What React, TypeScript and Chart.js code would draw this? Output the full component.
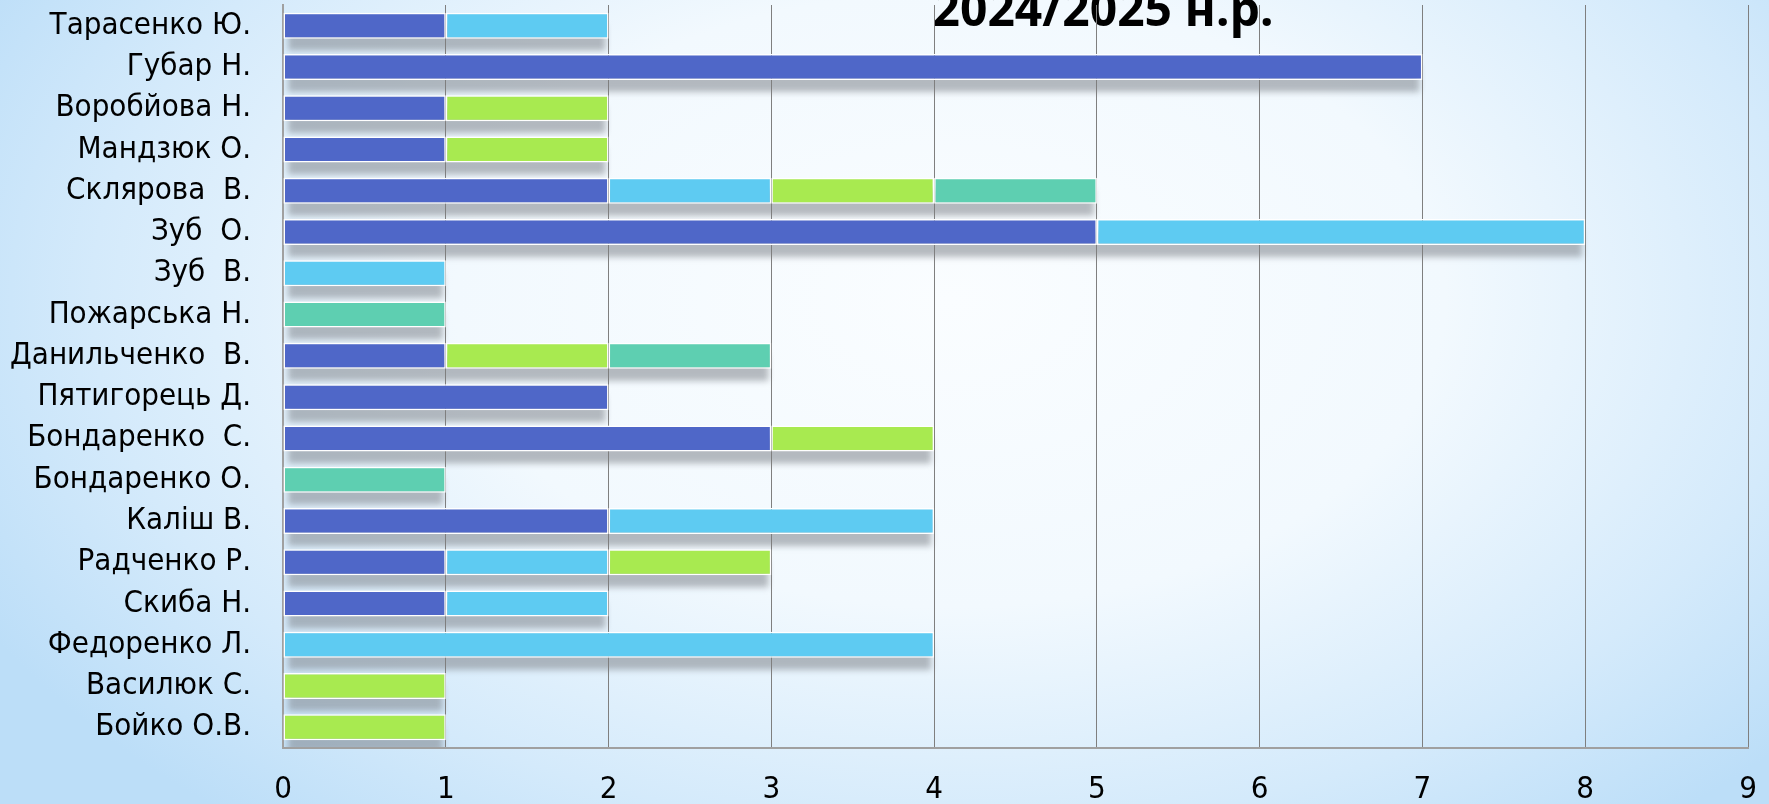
import React, { useEffect, useRef } from "react";
import { Chart, registerables } from "chart.js";

Chart.register(...registerables);

const teachers = [
  "Тарасенко Ю.",
  "Губар Н.",
  "Воробйова Н.",
  "Мандзюк О.",
  "Склярова  В.",
  "Зуб  О.",
  "Зуб  В.",
  "Пожарська Н.",
  "Данильченко  В.",
  "Пятигорець Д.",
  "Бондаренко  С.",
  "Бондаренко О.",
  "Каліш В.",
  "Радченко Р.",
  "Скиба Н.",
  "Федоренко Л.",
  "Василюк С.",
  "Бойко О.В.",
];

const seriesDarkBlue = [1, 7, 1, 1, 2, 5, null, null, 1, 2, 3, null, 2, 1, 1, null, null, null];
const seriesLightBlue = [1, null, null, null, 1, 3, 1, null, null, null, null, null, 2, 1, 1, 4, null, null];
const seriesGreen = [null, null, 1, 1, 1, null, null, null, 1, null, 1, null, null, 1, null, null, 1, 1];
const seriesTeal = [null, null, null, null, 1, null, null, 1, 1, null, null, 1, null, null, null, null, null, null];

const xTickMin = 0;
const xTickMax = 9;
const titleText = "2024/2025 н.р.";

const seriesColors = ["#4f67c8", "#5ecbf2", "#a8ea50", "#5ecfb1"];

const W = 1769;
const H = 804;

const backdropPlugin = {
  id: "backdrop",
  beforeDraw(chart: any) {
    const { ctx, chartArea, scales } = chart;
    ctx.save();
    ctx.fillStyle = "rgb(188,222,248)";
    ctx.fillRect(0, 0, W, H);
    ctx.save();
    ctx.translate(950, 300);
    ctx.scale(1, 0.62);
    const g = ctx.createRadialGradient(0, 0, 0, 0, 0, 1100);
    g.addColorStop(0, "rgb(250,253,255)");
    g.addColorStop(0.45, "rgb(242,249,254)");
    g.addColorStop(0.78, "rgb(212,234,251)");
    g.addColorStop(1, "rgb(188,222,248)");
    ctx.fillStyle = g;
    ctx.fillRect(-3000, -3000, 6000, 6000);
    ctx.restore();

    // title (behind grid)
    ctx.fillStyle = "#000";
    ctx.font = "bold 48px 'Noto Sans', 'Open Sans', sans-serif";
    ctx.textAlign = "center";
    ctx.textBaseline = "alphabetic";
    ctx.fillText(titleText, 1103, 26);

    // bar shadows
    const xs = scales.x;
    const base = xs.getPixelForValue(0);
    const metas = chart.getSortedVisibleDatasetMetas();
    const n = chart.data.labels.length;
    ctx.beginPath();
    ctx.rect(chartArea.left, chartArea.top, chartArea.right - chartArea.left, chartArea.bottom - chartArea.top);
    ctx.clip();
    ctx.filter = "blur(3px)";
    ctx.fillStyle = "rgba(125,131,138,0.55)";
    for (let j = 0; j < n; j++) {
      let end = base;
      let yc: number | null = null;
      let h = 0;
      metas.forEach((m: any) => {
        const v = chart.data.datasets[m.index].data[j];
        if (v == null) return;
        const el = m.data[j];
        end = Math.max(end, el.x);
        yc = el.y;
        h = el.height;
      });
      if (yc === null) continue;
      ctx.fillRect(base + 5, (yc as number) - h / 2 + 12, end - base - 8, h);
    }
    ctx.restore();
  },
};

export default function App() {
  const ref = useRef<HTMLCanvasElement | null>(null);
  useEffect(() => {
    if (!ref.current) return;
    const labelFont = { family: "'DejaVu Sans Condensed', 'DejaVu Sans', sans-serif", size: 31 };
    const chart = new Chart(ref.current, {
      type: "bar",
      data: {
        labels: teachers,
        datasets: [
          { label: "1", data: seriesDarkBlue, backgroundColor: seriesColors[0] },
          { label: "2", data: seriesLightBlue, backgroundColor: seriesColors[1] },
          { label: "3", data: seriesGreen, backgroundColor: seriesColors[2] },
          { label: "4", data: seriesTeal, backgroundColor: seriesColors[3] },
        ].map((d) => ({
          ...d,
          borderColor: "#ffffff",
          borderWidth: 1.5,
          borderSkipped: false,
          barPercentage: 0.63,
          categoryPercentage: 1,
        })),
      },
      options: {
        indexAxis: "y",
        responsive: false,
        animation: false,
        devicePixelRatio: 1,
        layout: { padding: { top: 5, right: 21, left: 0, bottom: 0 } },
        plugins: {
          legend: { display: false },
          tooltip: { enabled: false },
          title: { display: false },
        },
        scales: {
          x: {
            type: "linear",
            stacked: true,
            min: xTickMin,
            max: xTickMax,
            ticks: { stepSize: 1, color: "#000", font: labelFont, padding: 23 },
            grid: { color: "#7f7f7f", lineWidth: 1, drawTicks: false },
            border: { display: true, color: "#a0a0a0", width: 2 },
            afterFit(scale: any) {
              scale.height = H - 748;
              scale.paddingLeft = 0;
              scale.paddingRight = 0;
            },
          },
          y: {
            stacked: true,
            ticks: { color: "#000", font: labelFont, padding: 32, autoSkip: false },
            grid: { display: false, drawTicks: false },
            border: { display: true, color: "#a0a0a0", width: 2 },
            afterFit(scale: any) {
              scale.width = 283;
              scale.paddingTop = 0;
              scale.paddingBottom = 0;
            },
          },
        },
      } as any,
      plugins: [backdropPlugin],
    });
    return () => chart.destroy();
  }, []);
  return (
    <div style={{ position: "absolute", left: 0, top: 0, width: W, height: H }}>
      <canvas ref={ref} width={W} height={H} style={{ display: "block" }} />
    </div>
  );
}
